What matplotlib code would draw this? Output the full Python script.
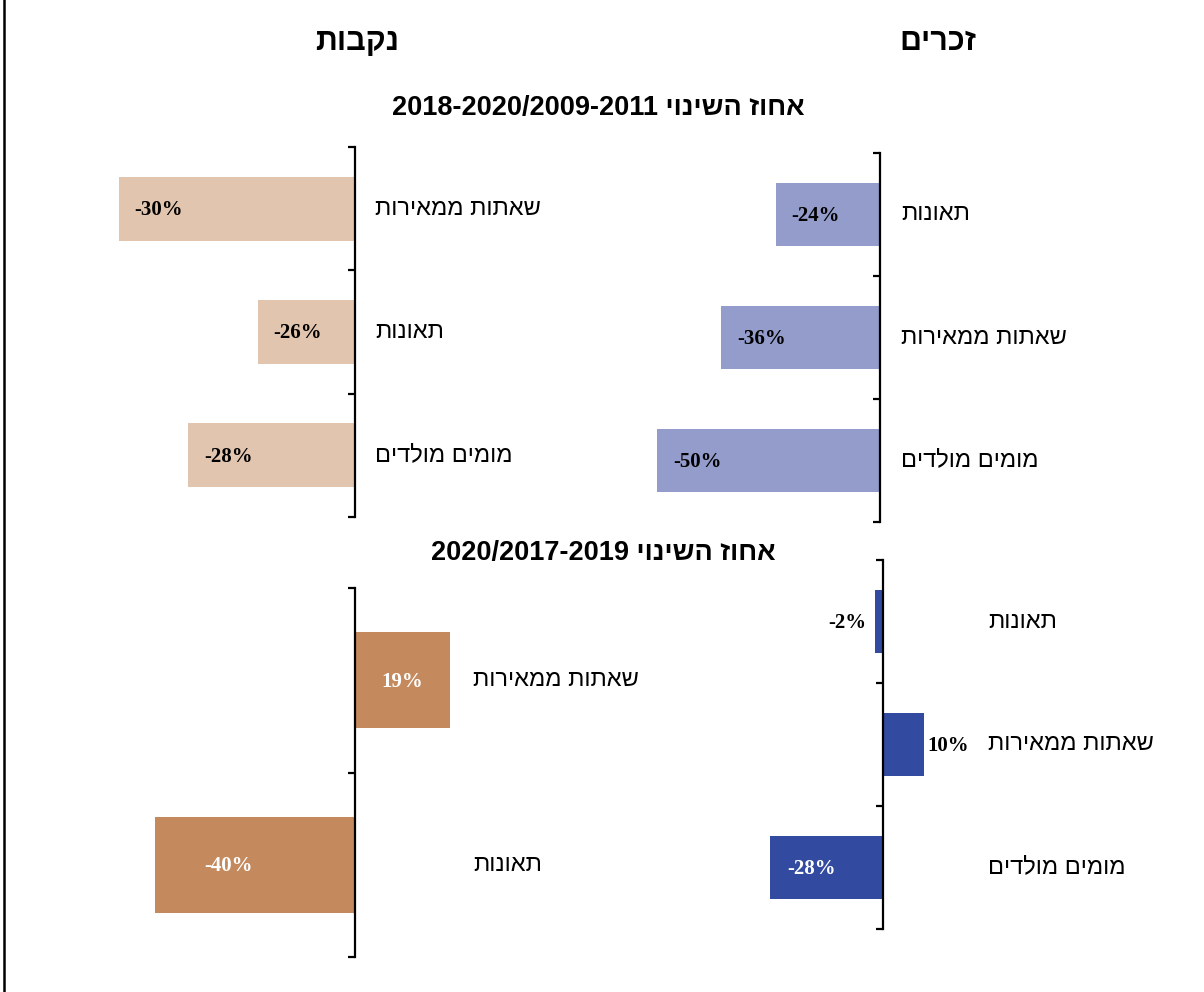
import numpy as np
import matplotlib.pyplot as plt
from matplotlib.lines import Line2D

W, H, DPI = 1204, 992, 100


def rtl(s):
    # matplotlib has no bidi support, so Hebrew is drawn in visual order
    return s[::-1]


males_title = "זכרים"
females_title = "נקבות"
change_label = "אחוז השינוי"
period_long = "2018-2020/2009-2011"
period_short = "2020/2017-2019"

# 2018-2020 vs 2009-2011
m_long_cats = ["תאונות", "שאתות ממאירות", "מומים מולדים"]
m_long_vals = [-24, -36, -50]
f_long_cats = ["שאתות ממאירות", "תאונות", "מומים מולדים"]
f_long_vals = [-30, -26, -28]

# 2020 vs 2017-2019
m_short_cats = ["תאונות", "שאתות ממאירות", "מומים מולדים"]
m_short_vals = [-2, 10, -28]
f_short_cats = ["שאתות ממאירות", "תאונות"]
f_short_vals = [19, -40]

HEB = ['Liberation Sans', 'DejaVu Sans']
NUM = ['Liberation Serif', 'DejaVu Serif']

fig = plt.figure(figsize=(W / DPI, H / DPI), dpi=DPI)


def px2pt(p):
    return p * 72.0 / DPI


def panel(rect, axis_px, base, scale, cats, vals, color, label_px, val_pos, val_colors):
    x0, y0, x1, y1 = rect
    ax = fig.add_axes([x0 / W, 1 - y1 / H, (x1 - x0) / W, (y1 - y0) / H])
    ax.set_xlim(base - (axis_px - x0) / scale, base + (x1 - axis_px) / scale)
    n = len(vals)
    ax.set_ylim(n - 0.5, -0.5)
    y = np.arange(n)
    v = np.array(vals, dtype=float)
    ax.barh(y, v - base, left=base, height=0.52, color=color, zorder=1)

    for s in ['top', 'right', 'bottom']:
        ax.spines[s].set_visible(False)
    ax.spines['left'].set_position(('data', base))
    ax.spines['left'].set_linewidth(1.6)
    ax.set_xticks([])
    ax.set_yticks(np.arange(n + 1) - 0.5)
    ax.tick_params(axis='y', direction='out', length=px2pt(7), width=1.6, labelleft=False)
    ax.patch.set_visible(False)

    for i, c in enumerate(cats):
        ax.annotate(rtl(c), xy=(base, i), xytext=(px2pt(label_px), 0),
                    textcoords='offset points', ha='left', va='center',
                    fontsize=17, family=HEB, annotation_clip=False)

    for i, val in enumerate(vals):
        mode, pad = val_pos[i]
        sign = 1 if val < 0 else -1
        if mode == 'in':
            xy, dx, ha = (val, i), sign * pad, 'left' if val < 0 else 'right'
        elif mode == 'out':
            xy, dx, ha = (val, i), -sign * pad, 'right' if val < 0 else 'left'
        else:
            xy, dx, ha = ((val + base) / 2, i), 0, 'center'
        ax.annotate(f"{val}%", xy=xy, xytext=(px2pt(dx), -1),
                    textcoords='offset points', ha=ha, va='center',
                    fontsize=15, fontweight='bold', family=NUM,
                    color=val_colors[i], annotation_clip=False)
    return ax


# top left - females
panel((100, 147, 360, 517), 355, -23.2, 34.75, f_long_cats, f_long_vals, '#E1C5AF', 20,
      [('in', 16)] * 3, ['black'] * 3)
# top right - males
panel((640, 153, 885, 522), 880, -1.15, 4.563, m_long_cats, m_long_vals, '#939CCB', 21,
      [('in', 16)] * 3, ['black'] * 3)
# bottom right - males
panel((700, 560, 930, 929), 883, 0, 4.05, m_short_cats, m_short_vals, '#324AA0', 105,
      [('out', 9), ('out', 4), ('in', 18)], ['black', 'black', 'white'])
# bottom left - females
panel((130, 588, 460, 957), 355, 0, 5.0, f_short_cats, f_short_vals, '#C48A5E', 118,
      [('mid', 0), ('in', 49)], ['white', 'white'])

fig.text(938 / W, 1 - 42 / H, rtl(males_title), ha='center', va='center',
         fontsize=22, fontweight='bold', family=HEB)
fig.text(357 / W, 1 - 42 / H, rtl(females_title), ha='center', va='center',
         fontsize=22, fontweight='bold', family=HEB)
fig.text(598 / W, 1 - 108 / H, period_long + " " + rtl(change_label), ha='center', va='center',
         fontsize=19.5, fontweight='bold', family=HEB)
fig.text(603 / W, 1 - 553 / H, period_short + " " + rtl(change_label), ha='center', va='center',
         fontsize=19.5, fontweight='bold', family=HEB)

fig.add_artist(Line2D([4 / W, 4 / W], [0, 1], color='black', linewidth=1.8))

fig.savefig('out.png', dpi=DPI)
